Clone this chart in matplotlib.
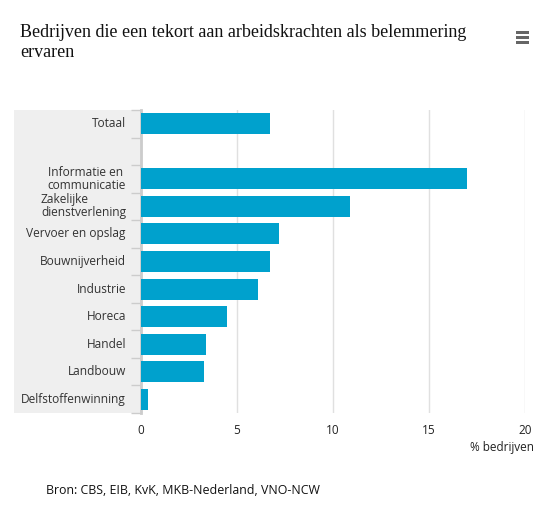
import matplotlib
matplotlib.use('Agg')
import matplotlib.pyplot as plt
import matplotlib.transforms as mtransforms
from matplotlib.patches import Rectangle

# data
categories = ['Totaal', '', 'Informatie en \ncommunicatie', 'Zakelijke\ndienstverlening',
              'Vervoer en opslag', 'Bouwnijverheid', 'Industrie', 'Horeca',
              'Handel', 'Landbouw', 'Delfstoffenwinning']
values = [6.7, None, 17.0, 10.9, 7.2, 6.7, 6.1, 4.5, 3.4, 3.3, 0.35]
x_ticks = [0, 5, 10, 15, 20]

BAR = '#00a1cd'
LABEL = '#333333'

fig = plt.figure(figsize=(5.6, 5.25), dpi=100)
fig.patch.set_facecolor('white')
ax = fig.add_axes([141 / 560, 1 - 413 / 525, (525 - 141) / 560, (413 - 110) / 525])

# gray label band behind category names
fig.patches.append(Rectangle((14 / 560, 1 - 413 / 525), (141 - 14) / 560, (413 - 110) / 525,
                             transform=fig.transFigure, facecolor='#efefef',
                             edgecolor='none', zorder=-1))

pos = list(range(len(categories)))
bar_pos = [p for p, v in zip(pos, values) if v is not None]
bar_val = [v for v in values if v is not None]
ax.barh(bar_pos, bar_val, height=0.76, color=BAR, zorder=3)

ax.set_ylim(len(categories) - 0.5, -0.5)
ax.set_xlim(0, 20)
ax.set_xticks(x_ticks)
ax.set_xticklabels([str(t) for t in x_ticks], fontsize=8.5, color='#222222', family='Open Sans')
ax.tick_params(axis='x', length=0, pad=8)
ax.grid(axis='x', color='#e0e0e0', linewidth=1, zorder=0)

# category boundaries as ticks, names as text
ax.set_yticks([p - 0.5 for p in pos] + [len(categories) - 0.5])
ax.set_yticklabels([])
ax.tick_params(axis='y', length=7.2, width=1, color='#cccccc', direction='out')
lab_trans = mtransforms.blended_transform_factory(ax.transAxes, ax.transData)
lab_trans = lab_trans + mtransforms.ScaledTranslation(-15 / 100, 0, fig.dpi_scale_trans)
for p, c in zip(pos, categories):
    ax.text(0, p, c, transform=lab_trans, ha='right', va='center', multialignment='left',
            fontsize=8.6, color=LABEL, family='Open Sans', linespacing=1.0)

for s in ['top', 'right', 'bottom']:
    ax.spines[s].set_visible(False)
ax.spines['left'].set_color('#cccccc')
ax.spines['left'].set_linewidth(2)
ax.set_facecolor('none')

fig.text(534 / 560, 1 - 447 / 525, '% bedrijven', ha='right', va='center',
         fontsize=8.5, color='#222222', family='Open Sans')

fig.text(20 / 560, 1 - 42.5 / 525, 'Bedrijven die een tekort aan arbeidskrachten als belemmering\nervaren',
         ha='left', va='center', fontsize=13, color='#111111', family='Liberation Serif',
         linespacing=1.2)

# menu icon
for dy in (-5, 0, 5):
    fig.patches.append(Rectangle((516 / 560, 1 - (37 + dy + 1.5) / 525), 13 / 560, 3 / 525,
                                 transform=fig.transFigure, facecolor='#666666',
                                 edgecolor='none'))

fig.text(46 / 560, 1 - 490 / 525, 'Bron: CBS, EIB, KvK, MKB-Nederland, VNO-NCW',
         ha='left', va='center', fontsize=8.9, color='#111111', family='Open Sans')

fig.savefig('out.png', dpi=100, facecolor='white')
